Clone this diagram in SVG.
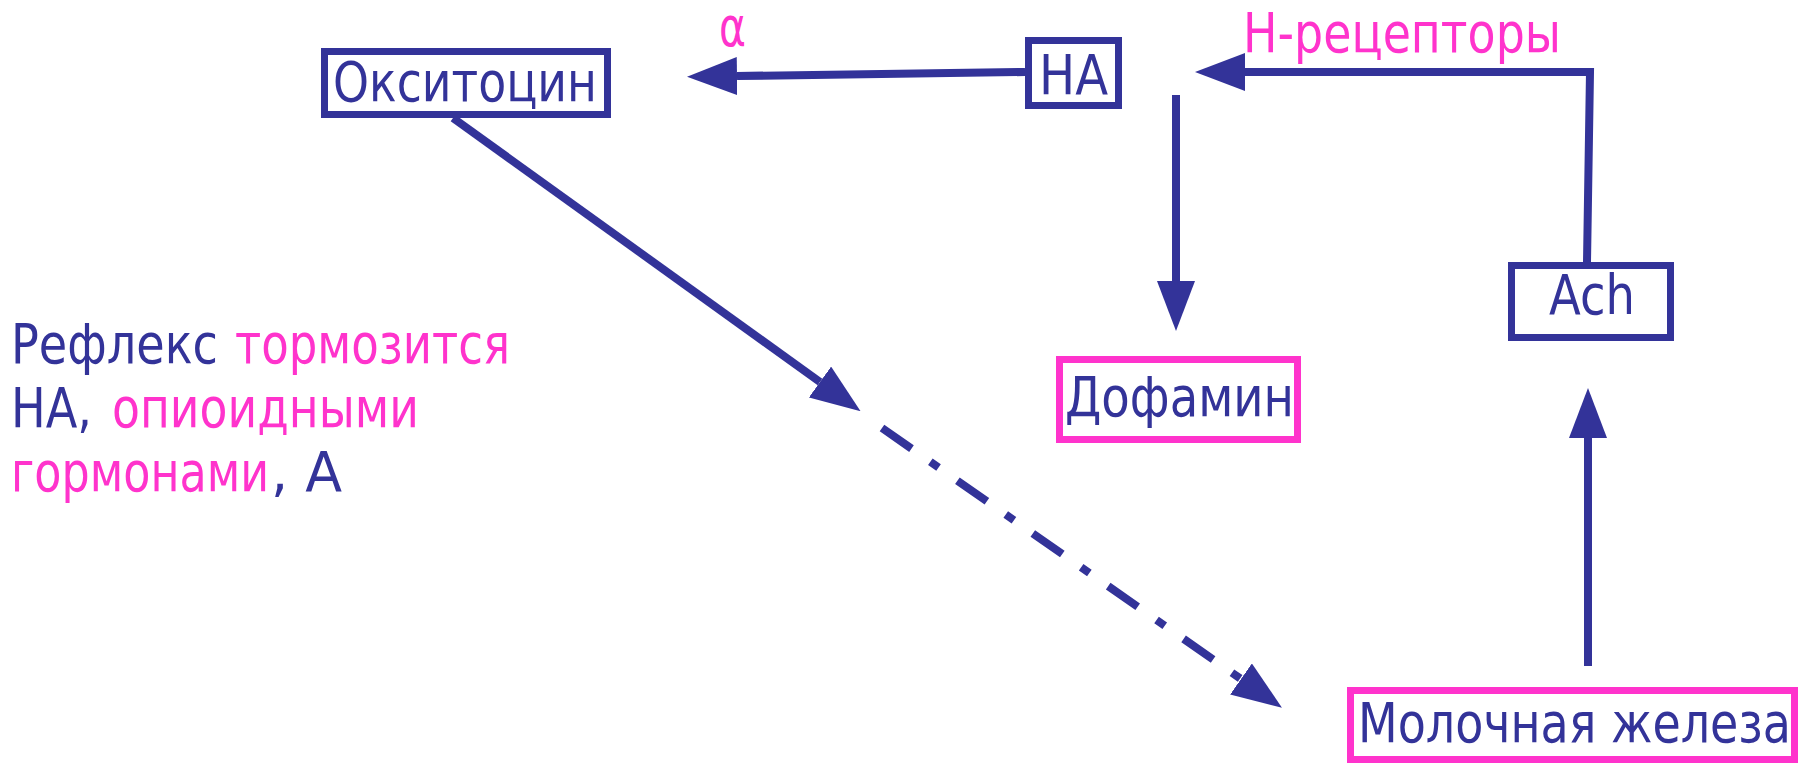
<svg xmlns="http://www.w3.org/2000/svg" width="1800" height="765" viewBox="0 0 1800 765">
  <style>
    .t { font-family: "DejaVu Sans", "Liberation Sans", sans-serif; font-size: 55px; }
    .navy { fill: #333399; }
    .pink { fill: #FF33CC; }
    .box-n { fill: #FFFFFF; stroke: #333399; stroke-width: 7; }
    .box-p { fill: #FFFFFF; stroke: #FF33CC; stroke-width: 7; }
    .link { fill: none; stroke: #333399; stroke-width: 8; }
    .dashdot { stroke-dasharray: 36 23 10 23; }
  </style>
  <defs>
    <marker id="head" viewBox="0 0 50 38" refX="0" refY="19" markerWidth="50" markerHeight="38" markerUnits="userSpaceOnUse" orient="auto">
      <path d="M0,0 L50,19 L0,38 Z" fill="#333399"/>
    </marker>
  </defs>
  <rect width="1800" height="765" fill="#FFFFFF"/>

  <g id="connectors">
    <!-- НА to Окситоцин -->
    <line class="link" x1="1025" y1="72" x2="737" y2="76" marker-end="url(#head)"/>
    <!-- Ach up and back to the left -->
    <polyline class="link" points="1587,262 1590,72 1245,72" marker-end="url(#head)"/>
    <!-- down to Дофамин -->
    <line class="link" x1="1176" y1="95" x2="1176" y2="281" marker-end="url(#head)"/>
    <!-- Молочная железа up to Ach -->
    <line class="link" x1="1588" y1="666" x2="1588" y2="438" marker-end="url(#head)"/>
    <!-- Окситоцин diagonal -->
    <line class="link" x1="453" y1="118" x2="820" y2="382" marker-end="url(#head)"/>
    <!-- dash-dot continuation -->
    <line class="link dashdot" x1="882" y1="428" x2="1241" y2="679" marker-end="url(#head)"/>
  </g>

  <g id="oxytocin">
    <rect class="box-n" x="324.5" y="51.5" width="283" height="63"/>
    <text class="t navy" x="333" y="101" textLength="264" lengthAdjust="spacingAndGlyphs">Окситоцин</text>
  </g>

  <g id="alpha-label">
    <text class="t pink" x="719" y="46" textLength="27" lengthAdjust="spacingAndGlyphs">α</text>
  </g>

  <g id="na">
    <rect class="box-n" x="1028.5" y="40.5" width="90" height="65"/>
    <text class="t navy" x="1039" y="94" textLength="69" lengthAdjust="spacingAndGlyphs">НА</text>
  </g>

  <g id="n-receptors-label">
    <text class="t pink" x="1243" y="52" textLength="318" lengthAdjust="spacingAndGlyphs">Н-рецепторы</text>
  </g>

  <g id="dopamine">
    <rect class="box-p" x="1059.5" y="359.5" width="238" height="80"/>
    <text class="t navy" x="1065" y="416" textLength="229" lengthAdjust="spacingAndGlyphs">Дофамин</text>
  </g>

  <g id="ach">
    <rect class="box-n" x="1511.5" y="265.5" width="159" height="72"/>
    <text class="t navy" x="1549" y="314" textLength="86" lengthAdjust="spacingAndGlyphs">Ach</text>
  </g>

  <g id="mammary-gland">
    <rect class="box-p" x="1350.5" y="690.5" width="444" height="69"/>
    <text class="t navy" x="1358" y="742" textLength="433" lengthAdjust="spacingAndGlyphs">Молочная железа</text>
  </g>

  <g id="reflex-note">
    <text class="t navy" x="11" y="363" textLength="207" lengthAdjust="spacingAndGlyphs">Рефлекс</text>
    <text class="t pink" x="235" y="363" textLength="275" lengthAdjust="spacingAndGlyphs">тормозится</text>
    <text class="t navy" x="11" y="427" textLength="81" lengthAdjust="spacingAndGlyphs">НА,</text>
    <text class="t pink" x="112" y="427" textLength="307" lengthAdjust="spacingAndGlyphs">опиоидными</text>
    <text class="t pink" x="11" y="491" textLength="258" lengthAdjust="spacingAndGlyphs">гормонами</text>
    <text class="t navy" x="271" y="491" textLength="71" lengthAdjust="spacingAndGlyphs">, А</text>
  </g>
</svg>
